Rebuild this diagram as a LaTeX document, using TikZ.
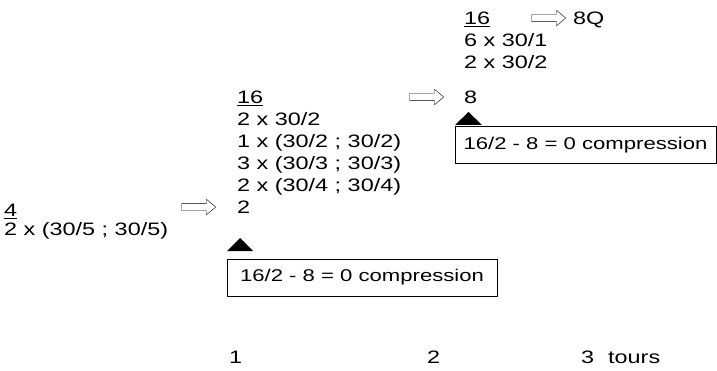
\documentclass[tikz,border=0pt]{standalone}
\usepackage{fontspec}
\setmainfont{Liberation Sans}[FakeStretch=1.3]
\usepackage{tikz}
\usetikzlibrary{positioning,shapes.arrows}

\begin{document}
\begin{tikzpicture}[
        x=1pt, y=1pt,
        font=\fontsize{18}{22}\selectfont,
        txt/.style={anchor=base west, inner sep=0pt, align=left},
        hollow/.style={single arrow, draw, thin, minimum height=34pt, inner sep=3.5pt, single arrow head extend=4pt, single arrow tip angle=80},
        result/.style={rectangle, draw, thin, minimum height=37pt, inner sep=0pt, font=\fontsize{17}{20}\selectfont},
        marker/.style={fill=black}
    ]
    \useasboundingbox (0,0) rectangle (717,370);

    % Columns (base = last line)
    \node[txt] (left) at (4,134.5) {\underline{4}\\[-3pt]2 x (30/5 ; 30/5)};
    \node[txt] (mid) at (237,178.5) {\underline{16}\\2 x 30/2\\1 x (30/2 ; 30/2)\\3 x (30/3 ; 30/3)\\2 x (30/4 ; 30/4)};
    \node[txt] (midres) at (237,156.5) {2};
    \node[txt] (top) at (464,301.5) {\underline{16}\\6 x 30/1\\2 x 30/2};
    \node[txt] (topres) at (464,266.5) {8};
    \node[txt] (final) at (573,345.5) {8Q};

    % Arrows
    \node[hollow] (arr1) at (196.5,163) {};
    \node[hollow] (arr2) at (424.5,273) {};
    \node[hollow] (arr3) at (546.5,352) {};

    % Markers
    \coordinate (tri1) at (240,119);
    \coordinate (tri2) at (468.5,245);
    \fill[marker] (tri1) ++(-13,0) -- ++(26,0) -- ++(-13,13) -- cycle;
    \fill[marker] (tri2) ++(-13.5,0) -- ++(27,0) -- ++(-13.5,13) -- cycle;

    % Boxes
    \node[result, minimum width=270pt] (box1) at (362,92.5) {16/2 - 8 = 0 compression};
    \node[result, minimum width=261pt] (box2) at (585.5,225) {16/2 - 8 = 0 compression};

    % Tours
    \node[txt] (t1) at (229,6.5) {1};
    \node[txt] (t2) at (427,6.5) {2};
    \node[txt] (t3) at (581,6.5) {3};
    \node[txt] (tours) at (608,6.5) {tours};

\end{tikzpicture}
\end{document}
